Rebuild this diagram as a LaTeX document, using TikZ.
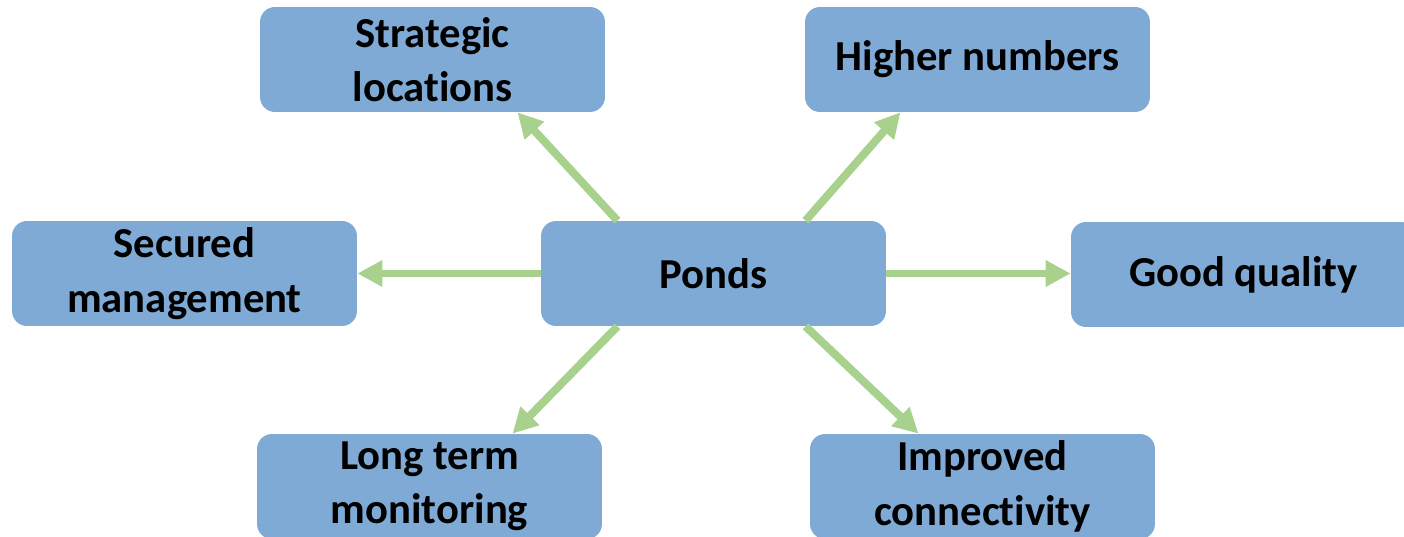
\documentclass[tikz,border=0pt]{standalone}
\usepackage{fontspec}
\setmainfont{Carlito}[Ligatures=NoCommon]
\usetikzlibrary{arrows.meta,calc}

\definecolor{boxblue}{HTML}{7FAAD6}
\definecolor{linkgreen}{HTML}{A9D18E}

\tikzset{
    idea/.style={rectangle,rounded corners=0.3cm,fill=boxblue,minimum width=6.9cm,minimum height=2.1cm,
        align=center,font=\fontsize{24.3}{31}\selectfont\bfseries},
    link/.style={draw=linkgreen,line width=0.16cm,-{Triangle[width=0.5cm,length=0.5cm]}}
}

\begin{document}
\begin{tikzpicture}[x=0.02cm,y=-0.02cm]
                    \useasboundingbox (0,0) rectangle (1404,537);
                    \clip (0,0) rectangle (1404,537);
                    \node[idea](ponds) at (713.5,273.5){Ponds};
                    \node[idea](strategic) at (432.5,59.5){Strategic\\locations};
                    \node[idea](higher) at (977.5,59.5){Higher numbers};
                    \node[idea](secured) at (184.5,273.5){Secured\\management};
                    \node[idea](good) at (1243.5,274.5){Good quality};
                    \node[idea](longterm) at (429.5,486.5){Long term\\monitoring};
                    \node[idea](improved) at (982.5,486.5){Improved\\connectivity};
                    \draw[link]($(ponds.north)+(-96,0)$)--($(strategic.south)+(85,0)$);
                    \draw[link]($(ponds.north)+(92,0)$)--($(higher.south)+(-77,0)$);
                    \draw[link](ponds.west)--(ponds.west -| secured.east);
                    \draw[link](ponds.east)--(ponds.east -| good.west);
                    \draw[link]($(ponds.south)+(-96,0)$)--($(longterm.north)+(83,0)$);
                    \draw[link]($(ponds.south)+(92,0)$)--($(improved.north)+(-64,0)$);
                \end{tikzpicture}
\end{document}
